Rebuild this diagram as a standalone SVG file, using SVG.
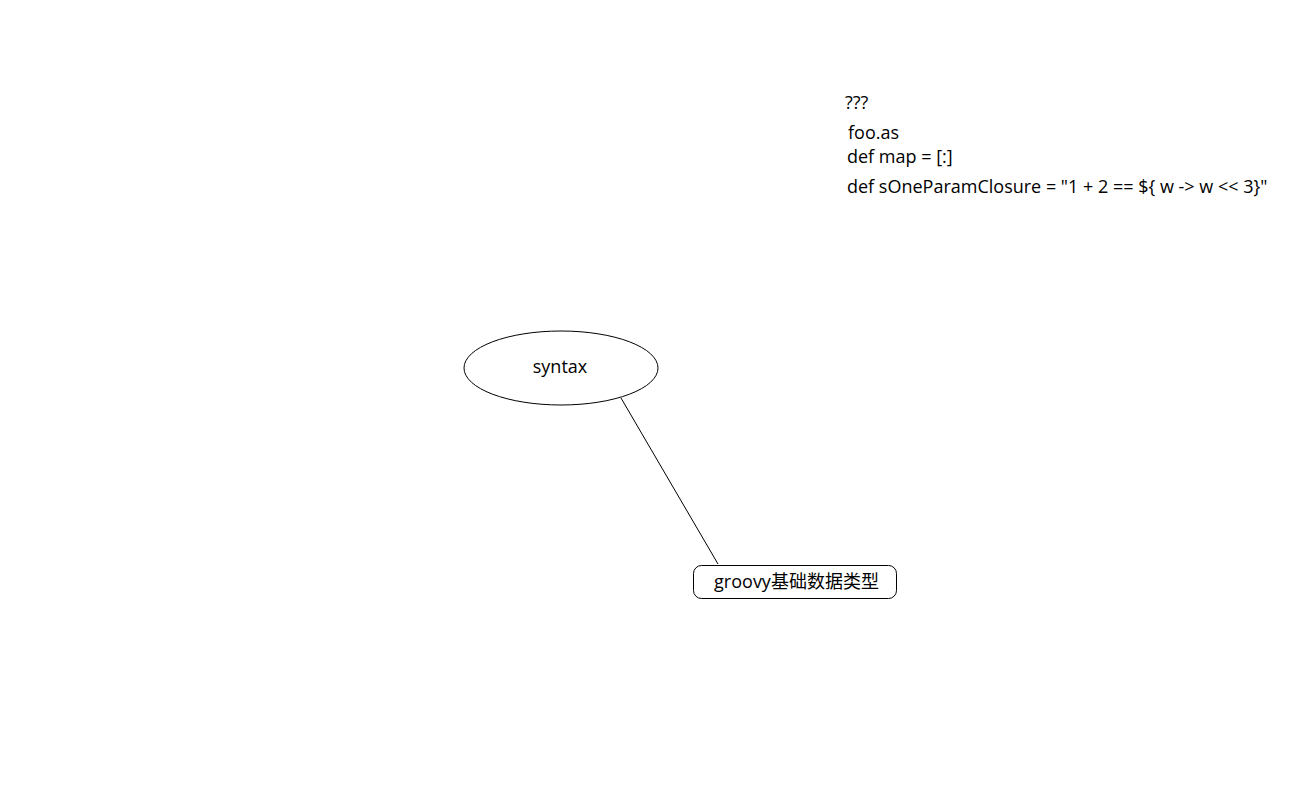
<svg xmlns="http://www.w3.org/2000/svg" width="1297" height="785" viewBox="0 0 1297 785">
<style>
text{font-family:"Open Sans","Noto Sans","Noto Sans CJK SC",sans-serif;font-size:18px;fill:#000}
.shape{fill:#fff;stroke:#000;stroke-width:1}
</style>
<rect width="1297" height="785" fill="#fff"/>
<g id="connectors">
<line x1="621" y1="398" x2="718" y2="564" stroke="#000" stroke-width="1"/>
</g>
<g id="node-syntax">
<ellipse class="shape" cx="561" cy="368" rx="97" ry="37"/>
<text x="560" y="373" text-anchor="middle">syntax</text>
</g>
<g id="node-groovy">
<rect class="shape" x="693.5" y="565.5" width="203" height="33" rx="8"/>
<text x="796.5" y="588" text-anchor="middle">groovy基础数据类型</text>
</g>
<g id="notes">
<text x="845" y="109">???</text>
<text x="848" y="139">foo.as</text>
<text x="847" y="163">def map = [:]</text>
<text x="847" y="193">def sOneParamClosure = "1 + 2 == ${ w -&gt; w &lt;&lt; 3}"</text>
</g>
</svg>
